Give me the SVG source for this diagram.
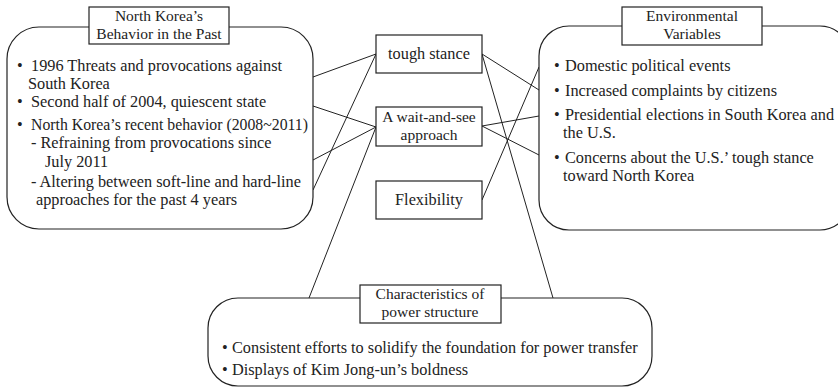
<svg xmlns="http://www.w3.org/2000/svg" width="838" height="388" viewBox="0 0 838 388">
<style>
.box{fill:#fff;stroke:#222;stroke-width:1.2}
.t{font-family:'Liberation Serif','DejaVu Serif',serif;font-size:16.3px;fill:#222}
.h{font-size:15.5px}
.c{text-anchor:middle}
.ln{stroke:#222;stroke-width:1;fill:none}
</style>
<rect width="838" height="388" fill="#fff"/>
<g id="connectors">
<line class="ln" x1="313" y1="77" x2="376" y2="54"/>
<line class="ln" x1="313" y1="106" x2="376" y2="127"/>
<line class="ln" x1="313" y1="160" x2="376" y2="127"/>
<line class="ln" x1="313" y1="190" x2="376" y2="54"/>
<line class="ln" x1="309" y1="298" x2="376" y2="127"/>
<line class="ln" x1="482" y1="54" x2="539" y2="90"/>
<line class="ln" x1="482" y1="54" x2="553" y2="298"/>
<line class="ln" x1="482" y1="126" x2="539" y2="116"/>
<line class="ln" x1="482" y1="126" x2="539" y2="155"/>
<line class="ln" x1="482" y1="200" x2="539" y2="67"/>
</g>
<g id="past">
<rect class="box" x="7" y="27" width="306" height="202" rx="32"/>
<rect class="box" x="89" y="7" width="140" height="37"/>
<text class="t h c" x="159" y="20.5">North Korea’s</text>
<text class="t h c" x="159" y="38.5">Behavior in the Past</text>
<text class="t" x="17" y="71">• <tspan x="31">1996  Threats and provocations against</tspan></text>
<text class="t" x="28" y="89">South Korea</text>
<text class="t" x="17" y="107">• <tspan x="31">Second half of 2004, quiescent state</tspan></text>
<text class="t" x="17" y="130">• <tspan x="31" textLength="277" lengthAdjust="spacingAndGlyphs">North Korea’s recent behavior (2008~2011)</tspan></text>
<text class="t" x="31" y="148">- Refraining from provocations since</text>
<text class="t" x="45" y="167">July 2011</text>
<text class="t" x="31" y="187">- Altering between soft-line and hard-line</text>
<text class="t" x="36" y="205">approaches for the past 4 years</text>
</g>
<g id="tough">
<rect class="box" x="376" y="35" width="106" height="38"/>
<text class="t c" x="429" y="59">tough stance</text>
</g>
<g id="wait">
<rect class="box" x="376" y="107" width="106" height="39"/>
<text class="t h c" x="429" y="121.5">A wait-and-see</text>
<text class="t h c" x="429" y="139.5">approach</text>
</g>
<g id="flex">
<rect class="box" x="376" y="181" width="106" height="38"/>
<text class="t c" x="429" y="205">Flexibility</text>
</g>
<g id="env">
<rect class="box" x="539" y="26" width="311" height="204" rx="30"/>
<rect class="box" x="622" y="7" width="140" height="38"/>
<text class="t h c" x="692" y="20.5">Environmental</text>
<text class="t h c" x="692" y="38.5">Variables</text>
<text class="t" x="554" y="71">• <tspan x="565">Domestic political events</tspan></text>
<text class="t" x="554" y="96">• <tspan x="565">Increased complaints by citizens</tspan></text>
<text class="t" x="554" y="120">• <tspan x="565">Presidential elections in South Korea and</tspan></text>
<text class="t" x="563" y="138">the U.S.</text>
<text class="t" x="554" y="163">• <tspan x="565">Concerns about the U.S.’ tough stance</tspan></text>
<text class="t" x="563" y="181">toward North Korea</text>
</g>
<g id="power">
<rect class="box" x="208" y="298" width="444" height="88" rx="30"/>
<rect class="box" x="360" y="285" width="141" height="38"/>
<text class="t h c" x="430" y="298.5">Characteristics of</text>
<text class="t h c" x="430" y="316.5">power structure</text>
<text class="t" x="222" y="353">• <tspan x="232">Consistent efforts to solidify the foundation for power transfer</tspan></text>
<text class="t" x="222" y="375">• <tspan x="232">Displays of Kim Jong-un’s boldness</tspan></text>
</g>
</svg>
